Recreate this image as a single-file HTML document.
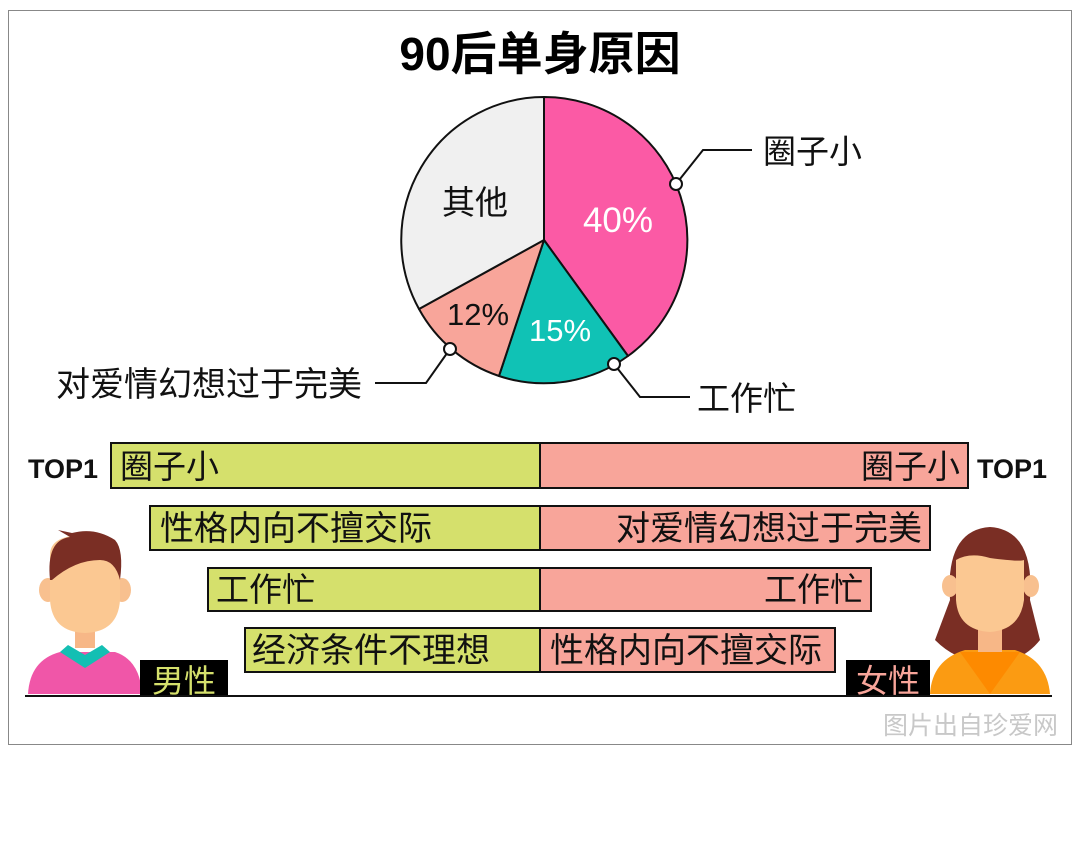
<!DOCTYPE html>
<html><head><meta charset="utf-8"><style>
body{margin:0;background:#fff;}
svg text{font-family:"Liberation Sans","Noto Sans CJK SC",sans-serif;}
</style></head><body>
<svg width="1080" height="837" viewBox="0 0 1080 837" xmlns="http://www.w3.org/2000/svg">
<rect x="0" y="0" width="1080" height="837" fill="#fff"/>
<rect x="8.5" y="10.5" width="1063" height="734" fill="#fff" stroke="#888" stroke-width="1"/>
<text x="540" y="70" font-size="46" font-weight="bold" text-anchor="middle" fill="#000">90后单身原因</text>
<g stroke="#111" stroke-width="2" stroke-linejoin="round">
<path d="M544,240 L544,97 A143,143 0 0 1 628,356 Z" fill="#fb5aa5"/>
<path d="M544,240 L628,356 A143,143 0 0 1 499,376 Z" fill="#10c2b5"/>
<path d="M544,240 L499,376 A143,143 0 0 1 419,309 Z" fill="#f8a59a"/>
<path d="M544,240 L419,309 A143,143 0 0 1 544,97 Z" fill="#f0f0f0"/>
</g>
<text x="475" y="214" font-size="33" text-anchor="middle" fill="#111">其他</text>
<text x="618" y="232" font-size="35" text-anchor="middle" fill="#fff">40%</text>
<text x="560" y="341" font-size="31" text-anchor="middle" fill="#fff">15%</text>
<text x="478" y="325" font-size="31" text-anchor="middle" fill="#111">12%</text>
<g stroke="#111" stroke-width="2" fill="none">
<polyline points="676,184 703,150 752,150"/>
<polyline points="614,364 640,397 690,397"/>
<polyline points="450,349 426,383 375,383"/>
</g>
<g stroke="#111" stroke-width="2" fill="#fff">
<circle cx="676" cy="184" r="6"/><circle cx="614" cy="364" r="6"/><circle cx="450" cy="349" r="6"/>
</g>
<text x="763" y="163" font-size="33" fill="#111">圈子小</text>
<text x="697" y="410" font-size="33" fill="#111">工作忙</text>
<text x="362" y="396" font-size="34" text-anchor="end" fill="#111">对爱情幻想过于完美</text>
<g stroke="#111" stroke-width="2">
<rect x="111" y="443" width="429" height="45" fill="#d5e06c"/>
<rect x="540" y="443" width="428" height="45" fill="#f8a59a"/>
<rect x="150" y="506" width="390" height="44" fill="#d5e06c"/>
<rect x="540" y="506" width="390" height="44" fill="#f8a59a"/>
<rect x="208" y="568" width="332" height="43" fill="#d5e06c"/>
<rect x="540" y="568" width="331" height="43" fill="#f8a59a"/>
<rect x="245" y="628" width="295" height="44" fill="#d5e06c"/>
<rect x="540" y="628" width="295" height="44" fill="#f8a59a"/>
</g>
<g font-size="33" fill="#111">
<text x="120" y="478">圈子小</text>
<text x="960" y="478" text-anchor="end">圈子小</text>
<text x="160" y="540" font-size="34">性格内向不擅交际</text>
<text x="922" y="540" text-anchor="end" font-size="34">对爱情幻想过于完美</text>
<text x="216" y="601">工作忙</text>
<text x="863" y="601" text-anchor="end">工作忙</text>
<text x="252" y="662" font-size="34">经济条件不理想</text>
<text x="550" y="662" font-size="34">性格内向不擅交际</text>
</g>
<text x="28" y="478" font-size="27" font-weight="bold" fill="#111">TOP1</text>
<text x="977" y="478" font-size="27" font-weight="bold" fill="#111">TOP1</text>
<g>
<path d="M28,694 Q30,660 60,652 L115,652 Q140,660 142,694 Z" fill="#f056a8"/>
<path d="M60,652 L85,668 L110,652 L102,645 L85,655 L68,645 Z" fill="#14bfb3"/>
<rect x="75" y="626" width="20" height="22" fill="#f7b787"/>
<ellipse cx="48" cy="590" rx="9" ry="12" fill="#f8c08f"/>
<ellipse cx="122" cy="590" rx="9" ry="12" fill="#f8c08f"/>
<path d="M50,555 Q50,535 85,535 Q120,535 120,560 L120,600 Q118,632 85,633 Q52,632 50,600 Z" fill="#fbc892"/>
<path d="M50,580 Q46,540 70,537 L58,530 L72,533 Q95,527 115,540 Q124,550 120,580 Q115,560 100,560 Q75,560 52,580 Z" fill="#7a2e24"/>
</g>
<rect x="140" y="660" width="88" height="37" fill="#000"/>
<text x="184" y="692" font-size="32" text-anchor="middle" fill="#d5e06c">男性</text>
<g>
<path d="M950,600 Q945,530 990,527 Q1035,530 1030,600 L1040,640 Q1020,665 990,660 Q960,665 935,640 Z" fill="#7a2e24"/>
<path d="M930,694 Q932,660 965,650 L1015,650 Q1047,660 1050,694 Z" fill="#fb9b12"/>
<path d="M960,652 L990,694 L1020,652 Z" fill="#fd8a00"/>
<rect x="978" y="624" width="24" height="28" fill="#f7b787"/>
<ellipse cx="950" cy="586" rx="8" ry="11" fill="#f8c08f"/>
<ellipse cx="1031" cy="586" rx="8" ry="11" fill="#f8c08f"/>
<path d="M956,560 Q970,552 990,558 Q1020,562 1024,560 L1024,600 Q1020,630 990,632 Q958,630 956,600 Z" fill="#fbc892"/>
</g>
<rect x="846" y="660" width="84" height="37" fill="#000"/>
<text x="888" y="692" font-size="32" text-anchor="middle" fill="#f8a59a">女性</text>
<line x1="25" y1="696" x2="1052" y2="696" stroke="#111" stroke-width="2"/>
<text x="1058" y="734" font-size="25" text-anchor="end" fill="#c8c8c8">图片出自珍爱网</text>
</svg>
</body></html>
